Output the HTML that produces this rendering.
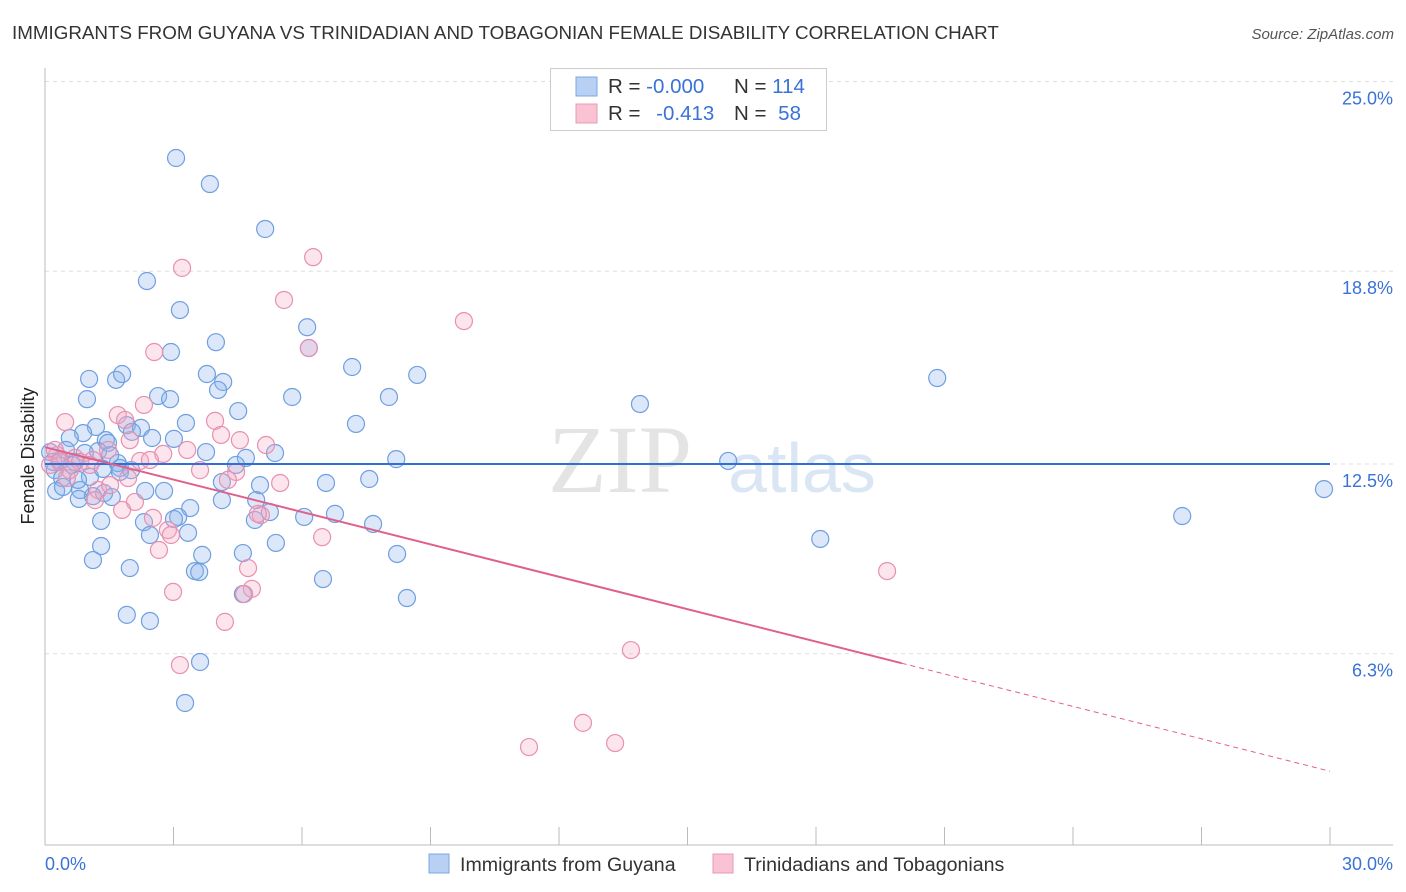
<!DOCTYPE html>
<html><head><meta charset="utf-8">
<style>
body{margin:0;background:#fff;font-family:"Liberation Sans",sans-serif;}
svg{display:block}
</style></head>
<body>
<svg id="chart" width="1406" height="892">
<text x="12" y="39" font-size="18.8" fill="#333">IMMIGRANTS FROM GUYANA VS TRINIDADIAN AND TOBAGONIAN FEMALE DISABILITY CORRELATION CHART</text>
<text x="1394" y="39" font-size="15" fill="#555" font-style="italic" text-anchor="end">Source: ZipAtlas.com</text>
<text x="620" y="492" font-size="96" fill="#e4e4e4" font-family="Liberation Serif,serif" text-anchor="middle">ZIP</text>
<text x="802" y="492" font-size="70" fill="#dbe6f5" text-anchor="middle">atlas</text>
<text transform="translate(34,456) rotate(-90)" font-size="18" fill="#222" text-anchor="middle">Female Disability</text>
<g id="grid"></g>
<g id="axes"></g>
<g id="marks"></g>
<g>
<rect x="550.5" y="68.5" width="276" height="62" fill="#fff" stroke="#ccc"/>
<rect x="576" y="77" width="21" height="19" fill="#b8d0f3" stroke="#7ba7e0"/>
<rect x="576" y="104" width="21" height="19" fill="#f9c3d4" stroke="#e89ab5"/>
<text x="608" y="93" font-size="20.5" fill="#333">R = <tspan fill="#3a72d8">-0.000</tspan></text>
<text x="734" y="93" font-size="20.5" fill="#333">N = <tspan fill="#3a72d8">114</tspan></text>
<text x="608" y="120" font-size="20.5" fill="#333">R = <tspan fill="#3a72d8" dx="10">-0.413</tspan></text>
<text x="734" y="120" font-size="20.5" fill="#333">N = <tspan fill="#3a72d8" dx="6">58</tspan></text>
</g>
<g>
<rect x="429" y="854" width="20" height="19" fill="#b8d0f3" stroke="#7ba7e0"/>
<text x="460" y="871" font-size="19.6" fill="#333">Immigrants from Guyana</text>
<rect x="713" y="854" width="20" height="19" fill="#f9c3d4" stroke="#e89ab5"/>
<text x="744" y="871" font-size="19.6" fill="#333">Trinidadians and Tobagonians</text>
</g>
<text x="45" y="870" font-size="18" fill="#3a72d8">0.0%</text>
<text x="1393" y="870" font-size="18" fill="#3a72d8" text-anchor="end">30.0%</text>
</svg>
<script>
const blueX=[3.06,3.85,5.14,2.38,3.15,6.12,3.99,2.94,6.16,7.17,8.69,20.83,1.03,1.66,1.80,3.78,4.16,4.04,2.64,2.92,0.98,5.77,8.03,13.89,4.51,3.29,7.26,1.19,1.91,2.24,2.03,0.89,0.58,1.42,2.50,3.01,1.47,5.37,3.76,1.24,0.93,4.69,8.20,15.95,0.12,0.35,0.70,1.70,4.46,0.23,1.75,0.40,1.05,7.57,6.56,0.26,0.82,2.34,2.78,5.02,29.86,1.38,1.56,0.79,4.93,4.13,3.39,5.25,6.05,6.77,3.11,3.01,26.55,1.31,2.31,7.66,2.45,3.34,5.39,18.10,1.31,4.62,3.67,8.22,1.12,1.98,3.50,3.60,6.49,8.45,4.62,1.91,2.45,3.62,3.27,0.49,0.63,0.19,0.42,2.01,1.52,4.13,0.77,1.35,1.12,4.90,1.75];
const blueY=[22.5,21.65,20.18,18.48,17.53,16.97,16.48,16.16,16.29,15.67,15.41,15.31,15.28,15.25,15.44,15.44,15.18,14.92,14.72,14.62,14.62,14.69,14.69,14.46,14.23,13.84,13.81,13.71,13.77,13.68,13.55,13.51,13.35,13.28,13.35,13.32,13.19,12.86,12.89,12.92,12.86,12.70,12.66,12.60,12.89,12.63,12.57,12.53,12.47,12.30,12.37,12.04,12.08,12.01,11.88,11.62,11.65,11.62,11.62,11.81,11.68,11.55,11.42,11.36,11.32,11.32,11.06,10.93,10.77,10.87,10.77,10.70,10.80,10.64,10.60,10.54,10.18,10.25,9.92,10.05,9.82,9.59,9.53,9.56,9.36,9.10,9.00,8.97,8.74,8.12,8.25,7.57,7.37,6.03,4.69,12.96,12.47,12.57,11.75,12.30,12.79,11.91,11.98,12.34,11.45,10.67,12.24];
const pinkX=[6.26,3.20,5.58,9.78,6.16,2.55,0.47,1.70,2.31,1.87,3.97,4.11,5.16,1.47,3.32,2.76,0.70,0.28,1.12,2.22,3.62,4.46,5.49,1.94,0.51,1.24,1.17,2.10,1.80,2.52,5.04,4.97,6.47,2.87,2.94,2.66,4.74,19.66,4.83,2.99,4.65,4.20,13.68,3.15,12.56,11.30,13.31,0.23,0.12,0.82,4.27,1.52,0.35,0.58,1.05,1.98,2.45,4.55];
const pinkY=[19.26,18.91,17.86,17.17,16.29,16.16,13.87,14.10,14.43,13.94,13.91,13.45,13.12,12.96,12.96,12.83,12.70,12.79,12.63,12.60,12.30,12.24,11.88,12.04,12.04,11.65,11.32,11.26,11.00,10.74,10.83,10.87,10.11,10.34,10.18,9.69,9.10,9.00,8.42,8.32,8.25,7.34,6.42,5.93,4.04,3.25,3.38,12.96,12.47,12.57,11.98,11.81,12.57,12.30,12.47,13.28,12.63,13.28];
const yTicks=[25.0,18.8,12.5,6.3];
const yTickLabels=["25.0%","18.8%","12.5%","6.3%"];
const xTicks=[0,3,6,9,12,15,18,21,24,27,30];
const blueFit=[12.5,0];
const pinkFit=[13.05,-0.353];
const pinkSolidEnd=20;

const NS="http://www.w3.org/2000/svg";
const X=v=>45+v/30*1285;
const Y=v=>464-(v-12.5)*30.6;
function mk(tag,attrs,parent){const e=document.createElementNS(NS,tag);for(const k in attrs)e.setAttribute(k,attrs[k]);document.getElementById(parent).appendChild(e);return e;}
yTicks.forEach((t,i)=>{
 const l=mk('line',{x1:45,x2:1393,y1:Y(t),y2:Y(t),stroke:'#ddd','stroke-dasharray':'4,4'},'grid');
 
 
 const tx=mk('text',{x:1393,y:Y(t)+23,'font-size':18,fill:'#3a72d8','text-anchor':'end'},'grid');
 tx.textContent=yTickLabels[i];
 
 
});
const ax=mk('line',{x1:45,x2:45,y1:68,y2:845,stroke:'#bbb'},'axes');


const bx=mk('line',{x1:45,x2:1393,y1:845,y2:845,stroke:'#bbb'},'axes');


xTicks.forEach(t=>{
 const l=mk('line',{x1:X(t),x2:X(t),y1:827,y2:845,stroke:'#bbb'},'axes');
 
 
});
blueX.forEach((v,i)=>{
 const c=mk('circle',{cx:X(v),cy:Y(blueY[i]),r:8.5,fill:'rgba(140,180,235,0.3)',stroke:'#6f9fe0','stroke-width':1.2},'marks');
 
 
});
pinkX.forEach((v,i)=>{
 const c=mk('circle',{cx:X(v),cy:Y(pinkY[i]),r:8.5,fill:'rgba(245,170,195,0.3)',stroke:'#e890b0','stroke-width':1.2},'marks');
 
 
});
const bl=mk('line',{x1:X(0),x2:X(30),y1:Y(blueFit[0]),y2:Y(blueFit[0]+blueFit[1]*30),stroke:'#2f6fd6','stroke-width':2},'marks');


const pl=mk('line',{x1:X(0),x2:X(pinkSolidEnd),y1:Y(pinkFit[0]),y2:Y(pinkFit[0]+pinkFit[1]*pinkSolidEnd),stroke:'#e0608c','stroke-width':2},'marks');


const pd=mk('line',{x1:X(pinkSolidEnd),x2:X(30),y1:Y(pinkFit[0]+pinkFit[1]*pinkSolidEnd),y2:Y(pinkFit[0]+pinkFit[1]*30),stroke:'#e0608c','stroke-width':1,'stroke-dasharray':'5,4'},'marks');


</script>
</body></html>
